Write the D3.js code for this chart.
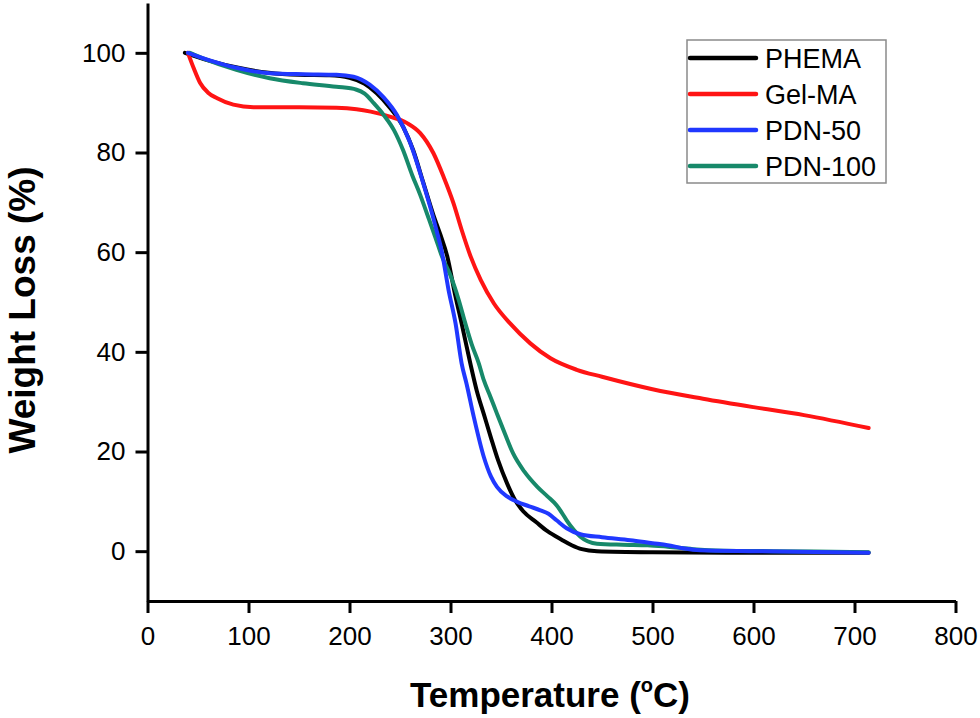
<!DOCTYPE html>
<html>
<head>
<meta charset="utf-8">
<script src="https://cdn.jsdelivr.net/npm/d3@7"></script>
<style>
  body { margin: 0; background: #fff; }
  svg text { font-family: Arial, "Liberation Sans", sans-serif; }
</style>
</head>
<body>
<div id="chart"></div>
<script>
// TGA curves, [temperature °C, weight %]
const phema = [
  [37,100],[60,98.5],[90,97],[120,96],[150,95.6],[180,95.5],[200,95],[215,93.8],
  [227,91.9],[240,89],[253,85.2],[263,80.5],[273,74],[283,67.5],[290,63.5],[297,59],
  [304,52],[311,45.7],[319.6,37.7],[326,32.2],[333,27.5],[340,22.8],[347,18.3],
  [356,13.6],[364,10.2],[372,8],[385,5.8],[396,4],[410,2.3],[420,1.2],[430,0.4],
  [445,0],[500,-0.2],[600,-0.3],[714,-0.3]
];
const gelma = [
  [40,100],[46,96.8],[52,94],[60,92],[69,90.9],[85,89.6],[105,89.1],[150,89.1],
  [187,89],[207,88.7],[221,88.2],[240,87.2],[257,85.9],[270,83.9],[283,79.9],
  [293,75.2],[303,69.8],[311,64.5],[320,59.1],[330,54.4],[343,49.7],[359,45.7],
  [379,41.7],[399,38.7],[425,36.4],[450,35],[500,32.5],[550,30.6],[600,28.9],
  [650,27.3],[714,24.7]
];
const pdn50 = [
  [40,100],[60,98.6],[88,97],[121,95.9],[154,95.7],[187,95.6],[204,95.2],[220,93.6],
  [234,91],[247,87.5],[260,82],[272,74.5],[280,69],[286,64.5],[291.5,60],[298,52.5],
  [305,45.7],[311,37.7],[316,33.5],[323,27],[333,18.9],[340,15],[346,12.9],[356,11],
  [366,9.9],[378,9],[389,8.2],[397,7.5],[405,6.2],[415,4.6],[428.6,3.4],[450,2.8],
  [478,2.2],[500,1.6],[515,1.2],[530,0.6],[547,0.2],[600,0],[714,-0.3]
];
const pdn100 = [
  [42,100],[55,98.9],[88,96.6],[121,94.9],[154,93.9],[187,93.2],[207,92.6],[215,91.8],
  [224,89.9],[234,87.5],[244,84.5],[253,80.5],[262,75.5],[270,71.5],[278,67],[285,63],
  [291.6,59.1],[300,55.3],[308,50.5],[314.7,45.7],[321,41.5],[328,37.7],[333,34.3],
  [339.5,31],[346,27.6],[354,23.5],[362,19.6],[373,16],[386,12.9],[396,11],[405,9.2],
  [410,7.8],[415,6.2],[422,4.3],[428.6,2.9],[445,1.5],[470,1.3],[495,1.2],[515,0.9],
  [540,0.4],[570,0.1],[620,0],[714,-0.2]
];

const seriesNames = ["PHEMA", "Gel-MA", "PDN-50", "PDN-100"];
const seriesColors = ["#000000", "#ff1414", "#2038ff", "#17896a"];
const seriesData = [phema, gelma, pdn50, pdn100];
const drawOrder = [0, 1, 3, 2];

const xTicks = [0, 100, 200, 300, 400, 500, 600, 700, 800];
const yTicks = [0, 20, 40, 60, 80, 100];

const width = 980;
const height = 718;

const svg = d3.select("#chart")
  .append("svg")
  .attr("width", width)
  .attr("height", height);

const x = d3.scaleLinear().domain([0, 800]).range([147.5, 955.5]);
const y = d3.scaleLinear().domain([-10, 110]).range([601, 3]);

// axes
const xAxis = svg.append("g")
  .attr("transform", `translate(0,${y(-10)})`)
  .call(d3.axisBottom(x).tickValues(xTicks).tickFormat(d3.format("d"))
    .tickSize(12).tickSizeOuter(0).tickPadding(14));

const yAxis = svg.append("g")
  .attr("transform", `translate(${x(0)},0)`)
  .call(d3.axisLeft(y).tickValues(yTicks).tickFormat(d3.format("d"))
    .tickSize(12).tickSizeOuter(0).tickPadding(10));

[xAxis, yAxis].forEach(g => {
  g.select(".domain").attr("stroke", "#000").attr("stroke-width", 3);
  g.selectAll(".tick line").attr("stroke", "#000").attr("stroke-width", 3);
  g.selectAll(".tick text")
    .attr("fill", "#000")
    .style("font-size", "26px")
    .style("font-family", "Arial, 'Liberation Sans', sans-serif");
});

// curves
const line = d3.line()
  .x(d => x(d[0]))
  .y(d => y(d[1]))
  .curve(d3.curveMonotoneX);

svg.append("g")
  .selectAll("path")
  .data(drawOrder)
  .join("path")
  .attr("d", i => line(seriesData[i]))
  .attr("fill", "none")
  .attr("stroke", i => seriesColors[i])
  .attr("stroke-width", 4)
  .attr("stroke-linejoin", "round")
  .attr("stroke-linecap", "round");

// legend
const legend = svg.append("g");
legend.append("rect")
  .attr("x", 687).attr("y", 40)
  .attr("width", 199).attr("height", 143)
  .attr("fill", "none")
  .attr("stroke", "#8a8a8a")
  .attr("stroke-width", 1.5);

const rows = legend.selectAll("g.row")
  .data(seriesNames)
  .join("g")
  .attr("class", "row")
  .attr("transform", (d, i) => `translate(0,${58 + i * 36})`);

rows.append("line")
  .attr("x1", 690).attr("x2", 756)
  .attr("stroke", (d, i) => seriesColors[i])
  .attr("stroke-width", 4.5)
  .attr("stroke-linecap", "round");

rows.append("text")
  .attr("x", 765)
  .attr("dy", "0.36em")
  .style("font-size", "27px")
  .text(d => d);

// axis titles
const xTitle = svg.append("text")
  .attr("x", 550)
  .attr("y", 707)
  .attr("text-anchor", "middle")
  .style("font-size", "35px")
  .style("font-weight", "bold");
xTitle.append("tspan").text("Temperature (");
xTitle.append("tspan").attr("dy", -15).style("font-size", "20px").text("o");
xTitle.append("tspan").attr("dy", 15).text("C)");

svg.append("text")
  .attr("transform", "translate(35,310) rotate(-90)")
  .attr("text-anchor", "middle")
  .style("font-size", "37px")
  .style("font-weight", "bold")
  .text("Weight Loss (%)");
</script>
</body>
</html>
